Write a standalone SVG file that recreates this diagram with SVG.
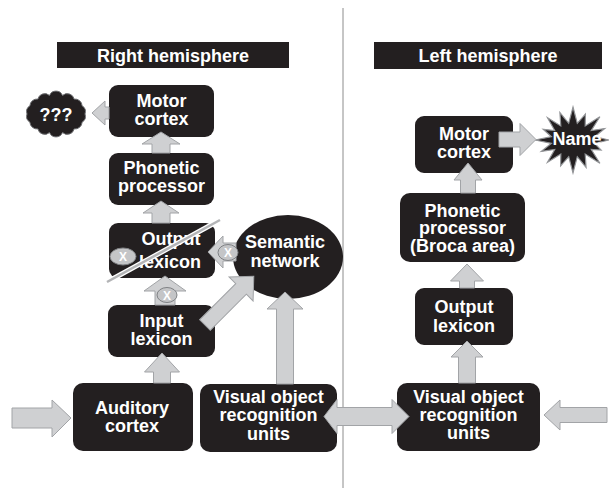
<svg xmlns="http://www.w3.org/2000/svg" width="609" height="489" viewBox="0 0 609 489">
<style>
.box{fill:#231f20}
.t{fill:#fff;font-family:"Liberation Sans",Arial,sans-serif;font-weight:bold;font-size:18px;text-anchor:middle}
.arr{fill:#cfd0d2;stroke:#a2a4a7;stroke-width:1;stroke-linejoin:miter}
.ov{fill:#c4c5c7;stroke:#7f8184;stroke-width:1}
.x{fill:#fff;font-family:"Liberation Sans",Arial,sans-serif;font-weight:bold;font-size:12px;text-anchor:middle}
</style>
<rect width="609" height="489" fill="#fff"/>
<line id="divider" x1="343" y1="8" x2="343" y2="488" stroke="#8c8c8c" stroke-width="1"/>
<g id="header-right"><rect class="box" x="57" y="42" width="232" height="26"/><text class="t" x="173" y="62">Right hemisphere</text></g>
<g id="header-left"><rect class="box" x="374" y="42" width="228" height="27"/><text class="t" x="488" y="62">Left hemisphere</text></g>

<g id="cloud"><path d="M 85,114 A7,7 0 0 1 82.1,122.2 A7,7 0 0 1 74.1,128.9 A7,7 0 0 1 62.5,132.5 A7,7 0 0 1 49.5,132.5 A7,7 0 0 1 37.9,128.9 A7,7 0 0 1 29.9,122.2 A7,7 0 0 1 27,114 A7,7 0 0 1 29.9,105.8 A7,7 0 0 1 37.9,99.1 A7,7 0 0 1 49.5,95.5 A7,7 0 0 1 62.5,95.5 A7,7 0 0 1 74.1,99.1 A7,7 0 0 1 82.1,105.8 A7,7 0 0 1 85,114 Z" fill="#231f20" stroke="#6d6e71" stroke-width="1"/><text class="t" x="56" y="121">???</text></g>
<g id="motor-r"><rect class="box" x="109" y="85" width="105" height="52" rx="9"/><text class="t" x="161.5" y="107">Motor</text><text class="t" x="161.5" y="125">cortex</text></g>
<g id="phonetic-r"><rect class="box" x="109" y="153" width="105" height="52" rx="9"/><text class="t" x="161.5" y="174">Phonetic</text><text class="t" x="161.5" y="192">processor</text></g>
<g id="output-r"><rect class="box" x="109" y="223" width="106" height="55" rx="9"/><text class="t" x="171" y="245">Output</text><text class="t" x="170" y="268">lexicon</text></g>
<g id="input-r"><rect class="box" x="108" y="305" width="107" height="52" rx="9"/><text class="t" x="161.5" y="327">Input</text><text class="t" x="161.5" y="345">lexicon</text></g>
<g id="auditory"><rect class="box" x="73" y="383" width="120" height="68" rx="10"/><text class="t" x="132" y="414">Auditory</text><text class="t" x="132" y="432">cortex</text></g>
<g id="visual-r"><rect class="box" x="200" y="384" width="137" height="68" rx="10"/><text class="t" x="268.5" y="403">Visual object</text><text class="t" x="268.5" y="421">recognition</text><text class="t" x="268.5" y="440">units</text></g>
<g id="semantic"><ellipse cx="288" cy="257" rx="55" ry="42" fill="#231f20"/><text class="t" x="285" y="248">Semantic</text><text class="t" x="285" y="267">network</text></g>
<g id="motor-l"><rect class="box" x="415" y="116" width="98" height="57" rx="9"/><text class="t" x="464" y="140">Motor</text><text class="t" x="464" y="158">cortex</text></g>
<g id="phonetic-l"><rect class="box" x="400" y="193" width="125" height="69" rx="10"/><text class="t" x="462.5" y="217">Phonetic</text><text class="t" x="462.5" y="234">processor</text><text class="t" x="462.5" y="252">(Broca area)</text></g>
<g id="output-l"><rect class="box" x="415" y="288" width="98" height="57" rx="9"/><text class="t" x="464" y="313">Output</text><text class="t" x="464" y="332">lexicon</text></g>
<g id="visual-l"><rect class="box" x="397" y="383" width="143" height="68" rx="10"/><text class="t" x="468.5" y="403">Visual object</text><text class="t" x="468.5" y="421">recognition</text><text class="t" x="468.5" y="439">units</text></g>
<g id="name"><polygon points="573,107 577.3,123.3 585.4,114.1 585.2,125.9 599.9,116.7 591.3,130.5 604.6,128.6 594.6,136.7 609,140 594.6,143.3 601.1,150.1 591.3,149.5 599.9,163.3 585.2,154.1 586.1,167.4 577.3,156.7 573,173 568.7,156.7 560.6,165.9 560.8,154.1 547.5,162.2 554.7,149.5 541.4,151.4 551.4,143.3 535,140 551.4,136.7 543.2,129.3 554.7,130.5 547.5,117.8 560.8,125.9 559.9,112.6 568.7,123.3" fill="#231f20" stroke="#939598" stroke-width="1.2" stroke-linejoin="miter"/><text class="t" x="577" y="145">Name</text></g>

<g id="connectors">
<polygon class="arr" points="109,107 105,107 105,101 92,113 105,125 105,119 109,119"/>
<polygon class="arr" points="152,153 152,144 142,144 161,132 180,144 170,144 170,153"/>
<polygon class="arr" points="152,223 152,213 143,213 161,201 179,213 170,213 170,223"/>
<polygon class="arr" points="155,305 155,291 144,291 165,276 186,291 175,291 175,305"/>
<polygon class="arr" points="153.5,383 153.5,372 144.5,372 162,353 179.5,372 170.5,372 170.5,383"/>
<polygon class="arr" points="12,408 52,408 52,400 71,418 52,437 52,428 12,428"/>
<polygon class="arr" points="236,243 223,243 223,236 208,252 223,268 223,261 236,261"/>
<polygon class="arr" transform="translate(205,325) rotate(-45)" points="0,-7.5 51,-7.5 51,-17 69,0 51,17 51,7.5 0,7.5"/>
<polygon class="arr" points="276.5,384 276.5,309 267,309 285,292 303,309 293.5,309 293.5,384"/>
<polygon class="arr" points="324,416.5 337,399.5 337,407.5 392,407.5 392,399.5 409,416.5 392,433.5 392,425.5 337,425.5 337,433.5"/>
<polygon class="arr" points="607,407.5 560,407.5 560,400 544,415 560,430 560,422.5 607,422.5"/>
<polygon class="arr" points="458.5,383 458.5,357 451,357 467,341 483,357 475.5,357 475.5,383"/>
<polygon class="arr" points="459.5,288 459.5,281 450.5,281 467,264 483.5,281 474.5,281 474.5,288"/>
<polygon class="arr" points="460.5,193 460.5,180 454,180 468,163 482,180 475.5,180 475.5,193"/>
<polygon class="arr" points="499,132 520,132 520,123.5 536,139.5 520,155.5 520,147 499,147"/>
<line x1="107" y1="282" x2="220" y2="220" stroke="#fff" stroke-width="5"/>
<line x1="107" y1="282" x2="220" y2="220" stroke="#b3b4b6" stroke-width="2.5"/>
<ellipse class="ov" cx="123" cy="256.5" rx="13" ry="8.5"/><text class="x" x="123" y="261">X</text>
<ellipse class="ov" cx="228" cy="252.5" rx="10" ry="8"/><text class="x" x="228" y="257">X</text>
<ellipse class="ov" cx="167" cy="295" rx="10" ry="7.5"/><text class="x" x="167" y="299.5">X</text>
</g>
</svg>
